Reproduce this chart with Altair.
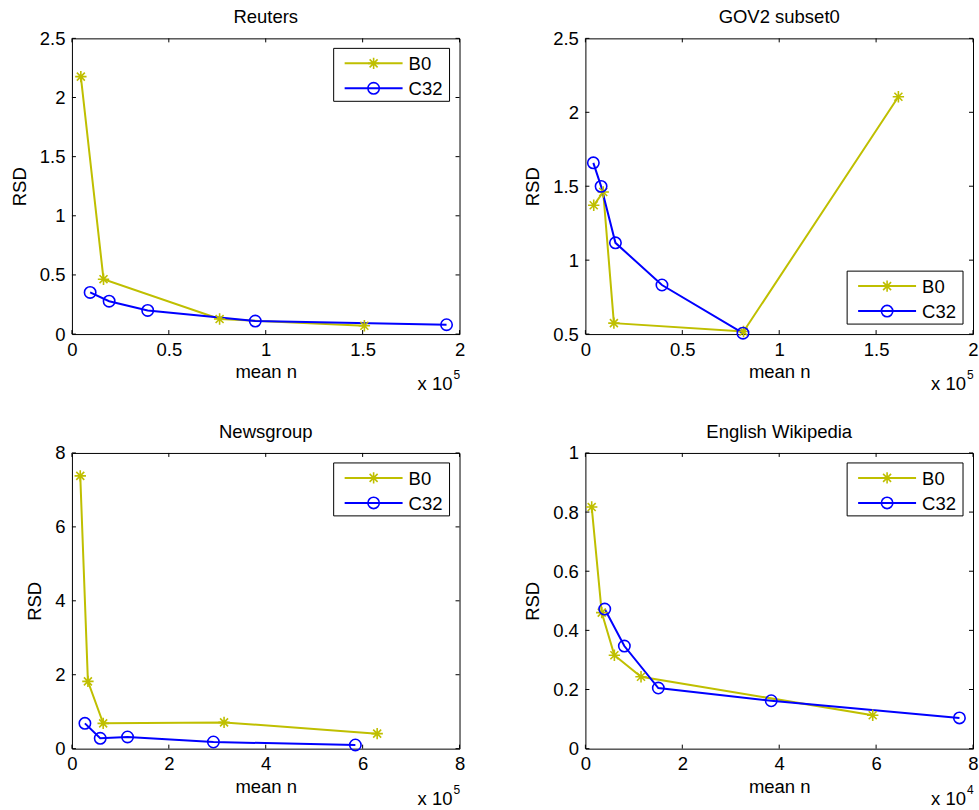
import altair as alt
import pandas as pd

FONT = "Liberation Sans"
FS = 18.5
W, H = 388, 296

SERIES = ["B0", "C32"]
COLORS = ["#BFBF00", "#0000FF"]
STAR = "M-1,0L1,0M0,-1L0,1M-0.7,-0.7L0.7,0.7M-0.7,0.7L0.7,-0.7"
SHAPES = [STAR, "circle"]

# Reuters
reuters_b0_x = [4600, 16300, 76200, 150900]
reuters_b0_y = [2.177, 0.464, 0.127, 0.070]
reuters_c32_x = [9400, 19200, 39100, 94600, 193300]
reuters_c32_y = [0.352, 0.278, 0.200, 0.110, 0.079]

# GOV2 subset0
gov2_b0_x = [4300, 9200, 14700, 81600, 161500]
gov2_b0_y = [1.371, 1.461, 0.574, 0.517, 2.105]
gov2_c32_x = [4100, 8100, 15500, 39500, 81300]
gov2_c32_y = [1.658, 1.499, 1.117, 0.832, 0.506]

# Newsgroup
news_b0_x = [17200, 33000, 64500, 314000, 630000]
news_b0_y = [7.38, 1.82, 0.684, 0.71, 0.406]
news_c32_x = [26800, 58400, 114800, 292000, 585000]
news_c32_y = [0.684, 0.28, 0.316, 0.18, 0.099]

# English Wikipedia
wiki_b0_x = [1300, 3370, 5980, 11480, 59300]
wiki_b0_y = [0.817, 0.46, 0.316, 0.243, 0.113]
wiki_c32_x = [3990, 8040, 15050, 38350, 77200]
wiki_c32_y = [0.472, 0.347, 0.205, 0.162, 0.104]

# axis ticks
reuters_xticks = [0, 50000, 100000, 150000, 200000]
reuters_yticks = [0, 0.5, 1, 1.5, 2, 2.5]
gov2_xticks = [0, 50000, 100000, 150000, 200000]
gov2_yticks = [0.5, 1, 1.5, 2, 2.5]
news_xticks = [0, 200000, 400000, 600000, 800000]
news_yticks = [0, 2, 4, 6, 8]
wiki_xticks = [0, 20000, 40000, 60000, 80000]
wiki_yticks = [0, 0.2, 0.4, 0.6, 0.8, 1]

color_enc = alt.Color("series:N", scale=alt.Scale(domain=SERIES, range=COLORS), legend=None)
shape_enc = alt.Shape("series:N", scale=alt.Scale(domain=SERIES, range=SHAPES), legend=None)


def panel(title, b0x, b0y, c32x, c32y, xticks, xdiv, expo, yticks, legend_top=True):
    df = pd.DataFrame({
        "series": ["B0"] * len(b0x) + ["C32"] * len(c32x),
        "x": b0x + c32x,
        "y": b0y + c32y,
        "order": list(range(len(b0x))) + list(range(len(c32x))),
    })
    xs = alt.Scale(domain=[xticks[0], xticks[-1]], nice=False, zero=False)
    ys = alt.Scale(domain=[yticks[0], yticks[-1]], nice=False, zero=False)
    xaxis = alt.Axis(values=xticks, labelExpr=f"'' + (datum.value / {xdiv})", title="mean n",
                     ticks=False, domain=False, grid=False, labelPadding=6, titlePadding=4,
                     labelFlush=False, labelOverlap=False)
    yaxis = alt.Axis(values=yticks, labelExpr="'' + datum.value", title="RSD",
                     ticks=False, domain=False, grid=False, labelPadding=7, titlePadding=10,
                     labelOverlap=False)

    base = alt.Chart(df)
    line = base.mark_line(strokeWidth=2).encode(
        x=alt.X("x:Q", scale=xs, axis=xaxis),
        y=alt.Y("y:Q", scale=ys, axis=yaxis),
        color=color_enc,
        order="order:Q",
    )
    pts = base.mark_point(filled=False, strokeWidth=1.6, size=130, opacity=1).encode(
        x=alt.X("x:Q", scale=xs, axis=xaxis),
        y=alt.Y("y:Q", scale=ys, axis=yaxis),
        color=color_enc,
        shape=shape_enc,
    )

    xt = alt.Chart(pd.DataFrame({"v": xticks}))
    yt = alt.Chart(pd.DataFrame({"v": yticks}))
    tick_style = dict(color="black", strokeWidth=1)
    tb = xt.mark_rule(**tick_style).encode(x=alt.X("v:Q", scale=xs, axis=xaxis), y=alt.value(H), y2=alt.value(H - 4))
    tt = xt.mark_rule(**tick_style).encode(x=alt.X("v:Q", scale=xs, axis=xaxis), y=alt.value(0), y2=alt.value(4))
    tl = yt.mark_rule(**tick_style).encode(y=alt.Y("v:Q", scale=ys, axis=yaxis), x=alt.value(0), x2=alt.value(4))
    tr = yt.mark_rule(**tick_style).encode(y=alt.Y("v:Q", scale=ys, axis=yaxis), x=alt.value(W), x2=alt.value(W - 4))

    one = alt.Chart(pd.DataFrame({"base": ["x 10"], "exp": [str(expo)], "title": [title]}))
    e1 = one.mark_text(align="right", baseline="alphabetic", font=FONT, fontSize=FS, color="black").encode(
        x=alt.value(W - 7), y=alt.value(H + 56), text="base:N")
    e2 = one.mark_text(align="left", baseline="alphabetic", font=FONT, fontSize=12, color="black").encode(
        x=alt.value(W - 6), y=alt.value(H + 45), text="exp:N")
    ttl = one.mark_text(align="center", baseline="alphabetic", font=FONT, fontSize=FS, color="black").encode(
        x=alt.value(W / 2), y=alt.value(-15), text="title:N")

    ly0 = 10 if legend_top else H - 63
    lx0, lx1 = 262, 378
    box = one.mark_rect(fill="white", stroke="black", strokeWidth=1).encode(
        x=alt.value(lx0), x2=alt.value(lx1), y=alt.value(ly0), y2=alt.value(ly0 + 53))
    layers = [line, pts, tb, tt, tl, tr, box]
    for i, s in enumerate(SERIES):
        ry = ly0 + 15 + 25 * i
        ldf = alt.Chart(pd.DataFrame({"series": [s]}))
        layers.append(ldf.mark_rule(strokeWidth=2).encode(
            x=alt.value(lx0 + 11), x2=alt.value(lx0 + 69), y=alt.value(ry), color=color_enc))
        layers.append(ldf.mark_point(filled=False, strokeWidth=1.6, size=130, opacity=1).encode(
            x=alt.value(lx0 + 40), y=alt.value(ry), color=color_enc, shape=shape_enc))
        layers.append(ldf.mark_text(align="left", baseline="middle", font=FONT, fontSize=FS, color="black").encode(
            x=alt.value(lx0 + 75), y=alt.value(ry + 1), text="series:N"))
    layers += [e1, e2, ttl]

    return alt.layer(*layers).properties(width=W, height=H)


p1 = panel("Reuters", reuters_b0_x, reuters_b0_y, reuters_c32_x, reuters_c32_y,
           reuters_xticks, 100000, 5, reuters_yticks, True)
p2 = panel("GOV2 subset0", gov2_b0_x, gov2_b0_y, gov2_c32_x, gov2_c32_y,
           gov2_xticks, 100000, 5, gov2_yticks, False)
p3 = panel("Newsgroup", news_b0_x, news_b0_y, news_c32_x, news_c32_y,
           news_xticks, 100000, 5, news_yticks, True)
p4 = panel("English Wikipedia", wiki_b0_x, wiki_b0_y, wiki_c32_x, wiki_c32_y,
           wiki_xticks, 10000, 4, wiki_yticks, True)

chart = alt.concat(p1, p2, p3, p4, columns=2, spacing={"row": 28, "column": 57}).properties(
    padding={"left": 9, "top": 7, "right": 0, "bottom": 0},
    background="white",
).configure_view(stroke="black", strokeWidth=1).configure_axis(
    labelFont=FONT, titleFont=FONT, labelFontSize=FS, titleFontSize=FS,
    titleFontWeight="normal", labelColor="black", titleColor="black",
)

chart.save("out.html", embed_options={"renderer": "svg", "actions": False})
